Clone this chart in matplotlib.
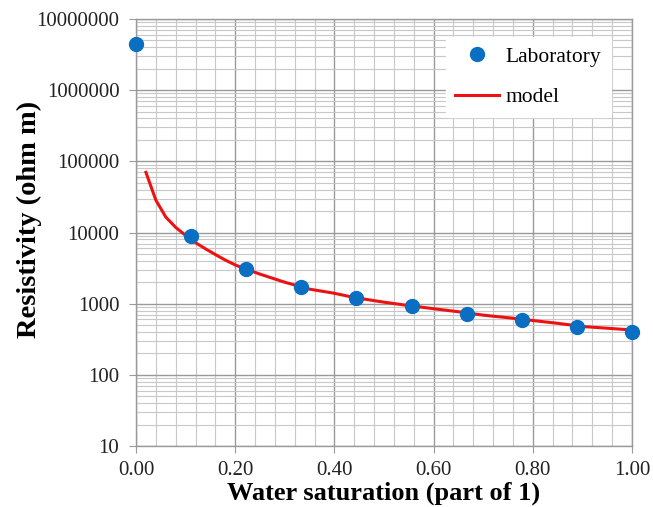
import matplotlib
matplotlib.use("Agg")
import matplotlib.pyplot as plt
from matplotlib.ticker import LogLocator, FixedLocator, MultipleLocator, FuncFormatter

plt.rcParams['font.family'] = ['Liberation Serif', 'DejaVu Serif']

lab_sw = [0.0, 0.111, 0.222, 0.333, 0.444, 0.556, 0.667, 0.778, 0.889, 1.0]
lab_res = [4460000, 8950, 3080, 1720, 1205, 931, 720, 592, 472, 402]

model_sw = [0.02, 0.04, 0.06, 0.08, 0.10, 0.12, 0.14, 0.16, 0.18, 0.20, 0.22, 0.25,
            0.30, 0.33, 0.35, 0.40, 0.44, 0.50, 0.55, 0.60, 0.65, 0.70, 0.75, 0.80,
            0.85, 0.90, 0.95, 1.00]
model_res = [70000, 28500, 16500, 11800, 9100, 7200, 5900, 4900, 4100, 3500, 3100, 2600,
             2000, 1750, 1600, 1400, 1220, 1050, 940, 850, 770, 690, 635, 580,
             530, 478, 452, 427]

x_ticks = [0.0, 0.2, 0.4, 0.6, 0.8, 1.0]
y_ticks = [10, 100, 1000, 10000, 100000, 1000000, 10000000]

fig = plt.figure(figsize=(6.53, 5.07), dpi=100)
ax = fig.add_axes([0.2083, 0.1203, 0.7595, 0.8422])

ax.set_yscale('log')
ax.set_xlim(0, 1)
ax.set_ylim(10, 10000000)

ax.xaxis.set_major_locator(FixedLocator(x_ticks))
ax.xaxis.set_minor_locator(MultipleLocator(0.04))
ax.yaxis.set_major_locator(FixedLocator(y_ticks))
ax.yaxis.set_minor_locator(LogLocator(base=10, subs=range(2, 10), numticks=20))
ax.xaxis.set_major_formatter(FuncFormatter(lambda v, p: f"{v:.2f}"))
ax.yaxis.set_major_formatter(FuncFormatter(lambda v, p: f"{int(round(v))}"))
ax.yaxis.set_minor_formatter(FuncFormatter(lambda v, p: ""))

ax.grid(True, which='major', color='#9a9a9a', linewidth=1.0)
ax.grid(True, which='minor', color='#c8c8c8', linewidth=0.8)
ax.set_axisbelow(True)

for s in ax.spines.values():
    s.set_color('#9a9a9a')
    s.set_linewidth(1.0)

ax.tick_params(axis='both', which='major', direction='out', length=5, color='#9a9a9a',
               labelsize=15, labelcolor='#222222')
ax.tick_params(axis='y', which='major', pad=7)
ax.tick_params(axis='x', which='major', pad=6)
ax.tick_params(axis='both', which='minor', length=0)

ax.plot(model_sw, model_res, color='#ee1111', linewidth=2.2, label='model', zorder=3)
ax.plot(lab_sw, lab_res, linestyle='none', marker='o', markersize=10,
        color='#0a6fc2', label='Laboratory', zorder=4, clip_on=False)

handles, labels = ax.get_legend_handles_labels()
leg = ax.legend(handles[::-1], labels[::-1], loc='upper right', bbox_to_anchor=(0.958, 0.958),
                borderaxespad=0, frameon=True, fontsize=15.5, handlelength=2.05,
                handletextpad=0.3, labelspacing=0.95, borderpad=0.45)
leg.get_frame().set_edgecolor('white')
leg.get_frame().set_facecolor('white')
leg.get_frame().set_alpha(1)

ax.set_xlabel('Water saturation (part of 1)', fontsize=19, fontweight='bold', labelpad=1)
ax.set_ylabel('Resistivity (ohm m)', fontsize=20.5, fontweight='bold')
ax.yaxis.set_label_coords(-0.19, 0.53)

fig.savefig('out.png', dpi=100)
